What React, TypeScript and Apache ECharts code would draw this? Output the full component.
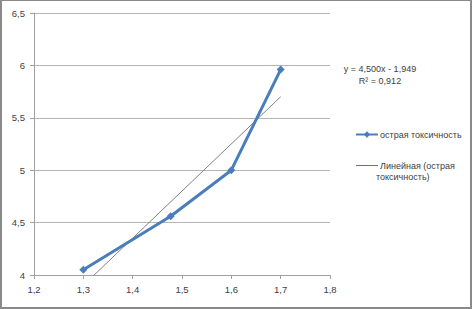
import React, { useEffect, useRef } from "react";
import * as echarts from "echarts";

const xValues = [1.3, 1.477, 1.6, 1.7];
const yValues = [4.05, 4.56, 5.0, 5.96];
const seriesName = "острая токсичность";
const trendName = "Линейная (острая токсичность)";
const trendSlope = 4.5;
const trendIntercept = -1.949;
const trendR2 = 0.912;
const xTicks = { min: 1.2, max: 1.8, interval: 0.1 };
const yTicks = { min: 4, max: 6.5, interval: 0.5 };

const fmt = (v: number, d: number) => v.toFixed(d).replace(".", ",");
const FONT = "Liberation Sans";

export default function App() {
  const ref = useRef<HTMLDivElement>(null);
  useEffect(() => {
    document.body.style.margin = "0";
    const chart = echarts.init(ref.current!, null, { renderer: "svg" });
    const xMinData = Math.min(...xValues);
    const xMaxData = Math.max(...xValues);
    const trendData = [xMinData, xMaxData].map((x) => [x, trendSlope * x + trendIntercept]);
    const eq = `y = ${fmt(trendSlope, 3)}x - ${fmt(-trendIntercept, 3)}`;
    chart.setOption({
      animation: false,
      grid: { left: 34, right: 142, top: 13, bottom: 34 },
      xAxis: {
        type: "value",
        min: xTicks.min,
        max: xTicks.max,
        interval: xTicks.interval,
        axisLine: { lineStyle: { color: "#a0a0a0" } },
        axisTick: { show: true, length: 4, lineStyle: { color: "#a0a0a0" } },
        splitLine: { show: false },
        axisLabel: {
          margin: 9,
          color: "#404040",
          fontFamily: FONT,
          fontSize: 9.5,
          formatter: (v: number) => fmt(v, 1),
        },
      },
      yAxis: {
        type: "value",
        min: yTicks.min,
        max: yTicks.max,
        interval: yTicks.interval,
        axisLine: { show: true, lineStyle: { color: "#a0a0a0" } },
        axisTick: { show: true, length: 4, lineStyle: { color: "#a0a0a0" } },
        splitLine: { show: true, lineStyle: { color: "#b4b4b4" } },
        axisLabel: {
          margin: 9,
          color: "#404040",
          fontFamily: FONT,
          fontSize: 9.5,
          formatter: (v: number) => String(v).replace(".", ","),
        },
      },
      legend: {
        orient: "vertical",
        left: 350,
        top: 125,
        itemWidth: 22,
        itemHeight: 8,
        itemGap: 22,
        textStyle: { color: "#404040", fontFamily: FONT, fontSize: 9, padding: [0, 0, 0, -3] },
        formatter: (name: string) => (name === trendName ? "Линейная (острая" : name),
        data: [
          { name: seriesName },
          { name: trendName, itemStyle: { opacity: 0 }, lineStyle: { width: 1, color: "#707070" } },
        ],
      },
      series: [
        {
          name: trendName,
          type: "line",
          data: trendData,
          symbol: "none",
          clip: true,
          lineStyle: { color: "#808080", width: 1 },
          itemStyle: { color: "#808080" },
          z: 1,
        },
        {
          name: seriesName,
          type: "line",
          data: xValues.map((x, i) => [x, yValues[i]]),
          symbol: "diamond",
          symbolSize: 8,
          lineStyle: { color: "#4a7ebb", width: 3 },
          itemStyle: { color: "#4a7ebb" },
          z: 2,
        },
      ],
      graphic: [
        {
          type: "text",
          left: 376,
          top: 172,
          style: { text: "токсичность)", fill: "#404040", font: `9px "${FONT}"` },
        },
        {
          type: "text",
          x: 380,
          y: 69,
          style: { text: eq, fill: "#404040", font: `9px "${FONT}"`, align: "center", verticalAlign: "middle" },
        },
        {
          type: "text",
          x: 380,
          y: 81,
          style: { text: `R² = ${fmt(trendR2, 3)}`, fill: "#404040", font: `9px "${FONT}"`, align: "center", verticalAlign: "middle" },
        },
      ],
    });
    return () => chart.dispose();
  }, []);
  return (
    <div
      style={{
        position: "absolute",
        left: 0,
        top: 0,
        width: 472,
        height: 309,
        boxSizing: "border-box",
        border: "1px solid #8a8a8a",
        borderLeftWidth: 2,
        borderRightWidth: 2,
        borderBottomWidth: 2,
        background: "#fff",
      }}
    >
      <div ref={ref} style={{ position: "absolute", left: -2, top: -1, width: 472, height: 309 }} />
    </div>
  );
}
